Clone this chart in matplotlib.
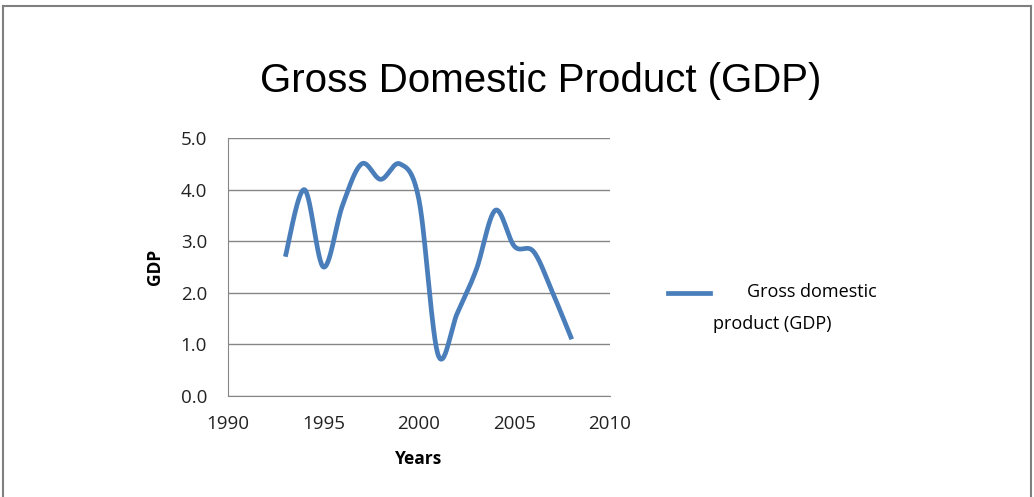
'''Recreation of the GDP smoothed line chart'''

import numpy as np
import matplotlib
matplotlib.use("Agg")
import matplotlib.pyplot as plt
from matplotlib.lines import Line2D

years = [1993, 1994, 1995, 1996, 1997, 1998, 1999, 2000,
         2001, 2002, 2003, 2004, 2005, 2006, 2007, 2008]
gdp = [2.7, 4.0, 2.5, 3.7, 4.5, 4.2, 4.5, 3.8,
       0.8, 1.6, 2.45, 3.6, 2.9, 2.8, 2.0, 1.1]
x_ticks = [1990, 1995, 2000, 2005, 2010]
y_ticks = [0.0, 1.0, 2.0, 3.0, 4.0, 5.0]

LINE_COLOR = "#4a7ebb"
GRID_COLOR = "#868686"


def smooth(xs, ys, steps=30):
    '''Courbe lissée façon Excel (Catmull-Rom passant par chaque point).'''
    xs = np.asarray(xs, float)
    ys = np.asarray(ys, float)
    px = np.concatenate([[xs[0]], xs, [xs[-1]]])
    py = np.concatenate([[ys[0]], ys, [ys[-1]]])
    out_x, out_y = [], []
    t = np.linspace(0, 1, steps)
    h00 = 2 * t**3 - 3 * t**2 + 1
    h10 = t**3 - 2 * t**2 + t
    h01 = -2 * t**3 + 3 * t**2
    h11 = t**3 - t**2
    for i in range(1, len(px) - 2):
        mx0 = (px[i + 1] - px[i - 1]) / 2
        mx1 = (px[i + 2] - px[i]) / 2
        my0 = (py[i + 1] - py[i - 1]) / 2
        my1 = (py[i + 2] - py[i]) / 2
        out_x.extend(h00 * px[i] + h10 * mx0 + h01 * px[i + 1] + h11 * mx1)
        out_y.extend(h00 * py[i] + h10 * my0 + h01 * py[i + 1] + h11 * my1)
    return np.array(out_x), np.array(out_y)


plt.rcParams['font.family'] = ['Open Sans', 'DejaVu Sans']

fig = plt.figure(figsize=(10.34, 4.97), dpi=100)

# cadre extérieur (sans bord inférieur)
for xs_, ys_ in [([0.003, 0.003], [0, 0.988]),
                 ([0.997, 0.997], [0, 0.988]),
                 ([0.003, 0.997], [0.988, 0.988])]:
    fig.add_artist(Line2D(xs_, ys_, color="#7f7f7f", lw=1.5,
                          transform=fig.transFigure))

ax = fig.add_axes([0.2205, 0.2032, 0.3694, 0.519])

sx, sy = smooth(years, gdp)
ax.plot(sx, sy, color=LINE_COLOR, lw=3.4, solid_capstyle="butt",
        label="Gross domestic product (GDP)")

ax.set_xlim(1990, 2010)
ax.set_ylim(0, 5)
ax.set_xticks(x_ticks)
ax.set_yticks(y_ticks)
ax.set_yticklabels([f"{v:.1f}" for v in y_ticks])
ax.tick_params(length=0, labelsize=13.5, colors="#222222")
ax.tick_params(axis="y", pad=15)
ax.tick_params(axis="x", pad=14)
ax.yaxis.grid(True, color=GRID_COLOR, lw=1)
ax.set_axisbelow(True)
for s in ["top", "right"]:
    ax.spines[s].set_visible(False)
ax.spines["left"].set_color(GRID_COLOR)
ax.spines["bottom"].set_color(GRID_COLOR)

ax.set_xlabel("Years", fontsize=12.5, fontweight="bold", labelpad=12)
ax.set_ylabel("GDP", fontsize=12.5, fontweight="bold", labelpad=12)

fig.text(0.523, 0.838, "Gross Domestic Product (GDP)", ha="center", va="center",
         fontsize=29, family="Liberation Sans")

# légende à droite
fig.add_artist(Line2D([0.646, 0.687], [0.41, 0.41], color=LINE_COLOR, lw=3.4,
                      transform=fig.transFigure))
fig.text(0.722, 0.412, "Gross domestic", ha="left", va="center", fontsize=13)
fig.text(0.690, 0.348, "product (GDP)", ha="left", va="center", fontsize=13)

plt.savefig("out.png", dpi=100)
